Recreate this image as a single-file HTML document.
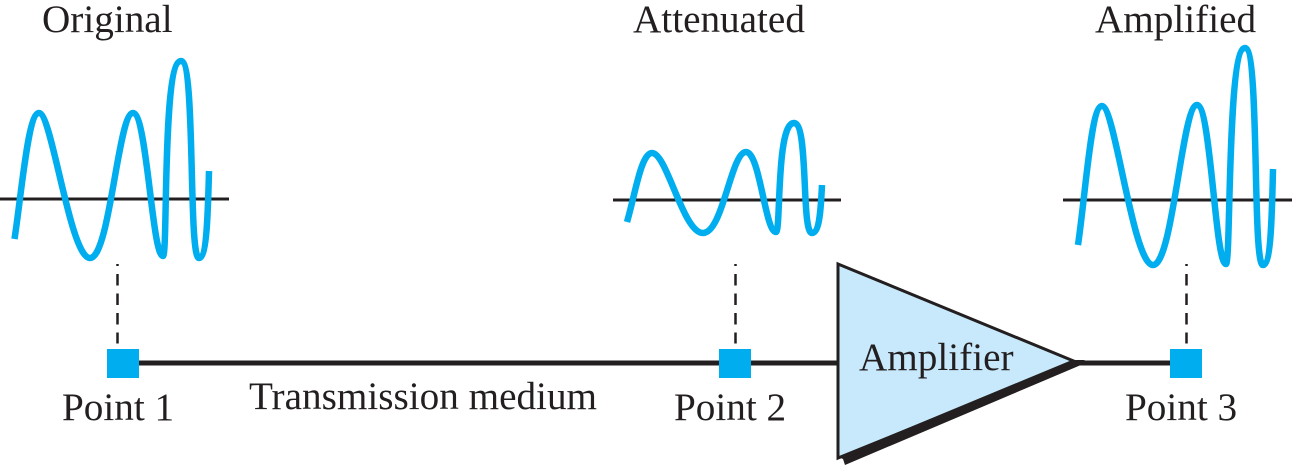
<!DOCTYPE html>
<html><head><meta charset="utf-8"><style>html,body{margin:0;padding:0;background:#fff}svg{display:block}text{font-family:"Liberation Serif",serif;font-size:39.2px;fill:#231f20}</style></head>
<body>
<svg width="1292" height="465" viewBox="0 0 1292 465" xmlns="http://www.w3.org/2000/svg">
<g stroke="#231f20" stroke-width="3" fill="none">
<path d="M0 199H229M613 200H841M1063 200H1292"/>
</g>
<g stroke="#00aeef" stroke-width="6.5" fill="none">
<path d="M14.5 239C22 190 28 113 39 113C52 113 70 258 90 258C110 258 118 113 133 113C147 113 152 256 163 256C168 256 162 61 181 61C196 61 188 258 199 258C207 258 208 210 209 171"/>
<path d="M627 222C635 195 641 153 652 153C667 153 683 233 703 233C723 233 731 152 746 152C760 152 765 232 776 232C781 232 776 123 794 123C809 123 801 233 812 233C820 233 821 205 822 185"/>
<path d="M1078 245C1086 190 1091 106 1102 106C1115 106 1133 265 1153 265C1173 265 1182 105 1197 105C1211 105 1215 264 1226 264C1231 264 1227 48 1245 48C1260 48 1252 265 1263 265C1271 265 1272 215 1273 169"/>
</g>
<g stroke="#231f20" stroke-width="2.5" fill="none" stroke-dasharray="2 8 11.5 8 11.5 8 11.5 8 11 100">
<path d="M117.5 264V348M735.5 264V348M1186.5 264V348"/>
</g>
<path d="M139 363H838M1076 363H1170" stroke="#231f20" stroke-width="5" fill="none"/>
<path d="M838 264L1076 362L838 458Z" fill="#c8e9fb" stroke="#231f20" stroke-width="3"/>
<path d="M838 457L1072 360L1084 360L1088 362L845 465L843 459Z" fill="#231f20"/>
<g fill="#00aeef">
<rect x="107" y="349" width="32" height="29"/>
<rect x="719" y="349" width="32" height="29"/>
<rect x="1170" y="349" width="32" height="29"/>
</g>
<text x="42" y="32">Original</text>
<text x="633" y="32">Attenuated</text>
<text x="1095" y="32">Amplified</text>
<text x="62" y="420">Point 1</text>
<text x="249" y="409">Transmission medium</text>
<text x="674" y="420">Point 2</text>
<text x="1125" y="420">Point 3</text>
<text x="859" y="370">Amplifier</text>
</svg>
</body></html>
